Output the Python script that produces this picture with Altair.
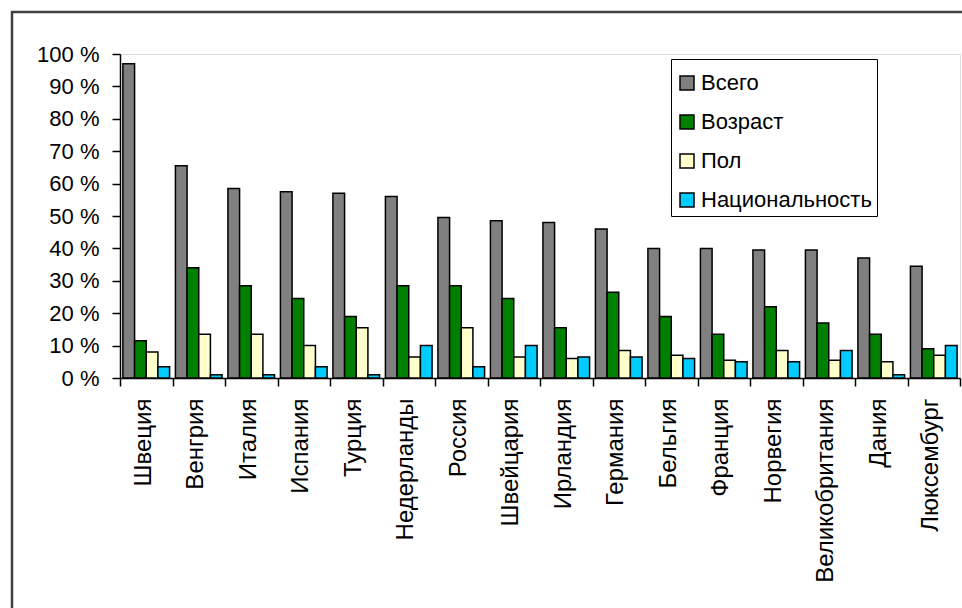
import altair as alt
import pandas as pd

# Countries and the share of each group (percent)
countries = ["Швеция", "Венгрия", "Италия", "Испания", "Турция", "Недерланды",
             "Россия", "Швейцария", "Ирландия", "Германия", "Бельгия", "Франция",
             "Норвегия", "Великобритания", "Дания", "Люксембург"]
series = ["Всего", "Возраст", "Пол", "Национальность"]
total = [97, 65.5, 58.5, 57.5, 57, 56, 49.5, 48.5, 48, 46, 40, 40, 39.5, 39.5, 37, 34.5]
age = [11.5, 34, 28.5, 24.5, 19, 28.5, 28.5, 24.5, 15.5, 26.5, 19, 13.5, 22, 17, 13.5, 9]
sex = [8, 13.5, 13.5, 10, 15.5, 6.5, 15.5, 6.5, 6, 8.5, 7, 5.5, 8.5, 5.5, 5, 7]
nationality = [3.5, 1, 1, 3.5, 1, 10, 3.5, 10, 6.5, 6.5, 6, 5, 5, 8.5, 1, 10]
colors = ["#808080", "#008000", "#FFFFCC", "#00CCFF"]
y_ticks = [0, 10, 20, 30, 40, 50, 60, 70, 80, 90, 100]

rows = []
for name, values in zip(series, [total, age, sex, nationality]):
    for c, v in zip(countries, values):
        rows.append({"country": c, "series": name, "value": v})
df = pd.DataFrame(rows)

FONT = "Liberation Sans"

bars = alt.Chart(df).mark_bar(stroke="black", strokeWidth=1.5).encode(
    x=alt.X("country:N", sort=countries, title=None,
            scale=alt.Scale(paddingInner=0, paddingOuter=0),
            axis=alt.Axis(labelAngle=270, labelAlign="right", labelBaseline="middle",
                          labelFontSize=24, labelFont=FONT, labelColor="black",
                          labelPadding=12, labelOffset=-3, tickBand="extent",
                          tickSize=8, tickColor="black", tickWidth=1.5,
                          domainColor="black", domainWidth=1.5, labelLimit=400)),
    xOffset=alt.XOffset("series:N", sort=series,
                        scale=alt.Scale(paddingInner=0, paddingOuter=0.25)),
    y=alt.Y("value:Q", title=None,
            scale=alt.Scale(domain=[0, 100], nice=False),
            axis=alt.Axis(values=y_ticks, labelExpr="datum.value + ' %'",
                          labelFontSize=22, labelFont=FONT, labelColor="black",
                          labelPadding=13, tickSize=8, tickColor="black", tickWidth=1.5,
                          domainColor="black", domainWidth=1.5, grid=False)),
    color=alt.Color("series:N", sort=series,
                    scale=alt.Scale(domain=series, range=colors),
                    legend=alt.Legend(orient="none", legendX=551, legendY=5,
                                      title=" ", titleFontSize=8, titlePadding=0,
                                      symbolType="square", symbolSize=196,
                                      symbolStrokeColor="black", symbolStrokeWidth=1.5,
                                      labelFontSize=22, labelFont=FONT, labelColor="black",
                                      labelLimit=400, labelOffset=3, padding=5, rowPadding=17,
                                      strokeColor="black", fillColor="white")),
)

# outer frame of the chart sheet
frame = alt.Chart(alt.Data(values=[{"f": 1}])).mark_rect(
    fill=None, stroke="#404040", strokeWidth=2.5
).encode(x=alt.value(-108), x2=alt.value(860), y=alt.value(-42), y2=alt.value(570))

chart = alt.layer(frame, bars).properties(
    width=840, height=324,
    autosize=alt.AutoSizeParams(type="none"),
    padding={"left": 120, "top": 54, "right": 2, "bottom": 230},
).configure_view(stroke="#a0a0a0", strokeWidth=1.5).configure(background="white")

chart.save("out.html", embed_options={"renderer": "svg", "actions": False})
